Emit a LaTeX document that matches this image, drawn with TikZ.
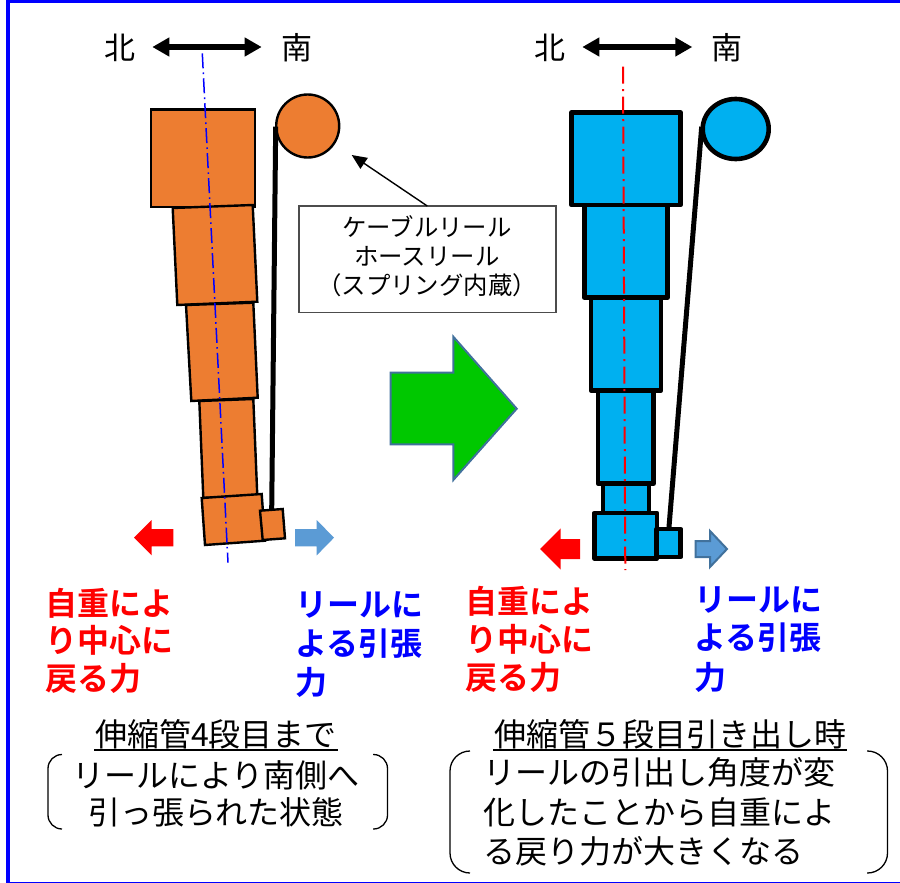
\documentclass[tikz,border=0pt]{standalone}
\usepackage{fontspec}
\setmainfont{Noto Sans CJK JP}
\newfontfamily\cjkb{Noto Sans CJK JP Bold}
\usetikzlibrary{arrows.meta,shapes.geometric}
\definecolor{ora}{HTML}{ED7D31}
\definecolor{sky}{HTML}{00B0F0}
\definecolor{steel}{HTML}{5B9BD5}
\definecolor{steeld}{HTML}{41719C}
\definecolor{grn}{HTML}{00C800}
\tikzset{
 opart/.style={draw=black,fill=ora,line width=2.4pt,line join=miter},
 bpart/.style={draw=black,fill=sky,line width=4.6pt,line join=round},
 cable/.style={draw=black,line width=5pt},
 nsarrow/.style={draw=black,line width=5.5pt,{Triangle[length=17pt,width=18pt]}-{Triangle[length=17pt,width=18pt]}},
 dir/.style={inner sep=0pt,font=\fontsize{31}{31}\selectfont},
 boldred/.style={inner sep=0pt,anchor=west,text=red,font=\cjkb\fontsize{32}{32}\selectfont},
 boldblue/.style={inner sep=0pt,anchor=west,text=blue,font=\cjkb\fontsize{32}{32}\selectfont},
 bodytxt/.style={inner sep=0pt,font=\fontsize{32}{32}\selectfont},
 boxtxt/.style={inner sep=0pt,font=\fontsize{24.4}{24.4}\selectfont},
 brk/.style={draw=black,line width=1.3pt},
}
\begin{document}
\begin{tikzpicture}[x=1pt,y=-1pt]
\useasboundingbox (0,0) rectangle (900,883);
\fill[white] (0,0) rectangle (900,883);
\fill[blue] (6,0) rectangle (900,3);
\fill[blue] (6,0) rectangle (10,883);
\fill[blue] (6,881.7) rectangle (900,883);
% left assembly
\coordinate (lat) at (202.3,53.3);
\coordinate (lab) at (228,562.7);
\draw[opart] (150.8,109.5) rectangle (255.2,206.7);
\draw[opart] (172.7,208) -- (252.7,205) -- (257.3,301.7) -- (177.3,305) -- cycle;
\draw[opart] (186,305) -- (253.3,302.7) -- (257.7,397.7) -- (191.3,401) -- cycle;
\draw[opart] (199.3,401) -- (253.3,399) -- (257.3,496) -- (203.3,498) -- cycle;
\draw[opart] (201.7,498) -- (261.7,494) -- (265,540.7) -- (205,545) -- cycle;
\draw[blue,line width=1.5pt,dash pattern=on 15pt off 4.2pt on 1.6pt off 4.2pt] (lat) -- (lab);
\node[circle,draw=black,fill=ora,line width=2.4pt,minimum size=63pt,inner sep=0pt] (lreel) at (307.7,126) {};
\coordinate (lct) at (275.7,126.7);
\coordinate (lcb) at (271.7,510);
\draw[cable] (lct) -- (lcb);
\draw[opart] (260,510.7) -- (282.7,509) -- (285,538.3) -- (262.7,540) -- cycle;
% right assembly
\draw[bpart] (571.6,112.4) rectangle (680.4,205);
\draw[bpart] (584.3,205) rectangle (667.7,297.6);
\draw[bpart] (591,297.6) rectangle (661,390.4);
\draw[bpart] (598,390.4) rectangle (653.7,483.6);
\draw[bpart] (603,483.6) rectangle (649,513);
\draw[bpart] (594.3,513) rectangle (657,558.4);
\coordinate (rat) at (623,66.7);
\coordinate (rab) at (625.3,570);
\draw[red,line width=2pt,dash pattern=on 17pt off 5.5pt on 2pt off 5.5pt] (rat) -- (rab);
\coordinate (rct) at (701.7,126.7);
\coordinate (rcb) at (669,527);
\draw[cable] (rct) -- (rcb);
\node[ellipse,draw=black,fill=sky,line width=4.6pt,minimum width=66pt,minimum height=60pt,inner sep=0pt] (rreel) at (735.7,129) {};
\draw[bpart] (656.6,529) rectangle (680.7,557);
% direction markers
\node[dir] (n1) at (119.5,48) {北};
\node[dir] (s1) at (297,48) {南};
\node[dir] (n2) at (549.5,48) {北};
\node[dir] (s2) at (727,48) {南};
\coordinate (a1l) at (152.3,47); \coordinate (a1r) at (261.7,47);
\coordinate (a2l) at (582.3,47); \coordinate (a2r) at (692.3,47);
\draw[nsarrow] (a1l) -- (a1r);
\draw[nsarrow] (a2l) -- (a2r);
% force arrows
\fill[red] (134,537.7) -- (151.7,520) -- (151.7,529) -- (173.3,529) -- (173.3,546.4) -- (151.7,546.4) -- (151.7,555.4) -- cycle;
\fill[steel] (334,537.7) -- (316.7,520) -- (316.7,529) -- (295,529) -- (295,546.4) -- (316.7,546.4) -- (316.7,555.4) -- cycle;
\fill[red] (540,549) -- (560.7,528.3) -- (560.7,539) -- (580,539) -- (580,559) -- (560.7,559) -- (560.7,569.7) -- cycle;
\draw[steeld,fill=steel,line width=2pt] (727,549) -- (710,531) -- (710,541) -- (695.5,541) -- (695.5,557) -- (710,557) -- (710,567) -- cycle;
% big arrow
\draw[steeld,fill=grn,line width=2pt] (390.7,372.7) -- (453.3,372.7) -- (453.3,336.7) -- (516.7,408.7) -- (453.3,480) -- (453.3,444.3) -- (390.7,444.3) -- cycle;
% callout
\node[draw=black!70,line width=1.4pt,minimum width=257pt,minimum height=106.3pt,inner sep=0pt,fill=white] (cbox) at (427.3,259.2) {};
\node[boxtxt] (c1) at (427,227) {ケーブルリール};
\node[boxtxt] (c2) at (427,256.7) {ホースリール};
\node[boxtxt] (c3) at (427,285.7) {（スプリング内蔵）};
\coordinate (cpt) at (351.7,155);
\coordinate (cst) at (427.3,206);
\draw[black,line width=1.4pt,-{Triangle[length=15pt,width=13pt]}] (cst) -- (cpt);
% bold labels
\node[boldred] (lr1) at (45,603) {自重によ};
\node[boldred] (lr2) at (45,640) {り中心に};
\node[boldred] (lr3) at (45,678) {戻る力};
\node[boldblue] (lb1) at (295,605) {リールに};
\node[boldblue] (lb2) at (295,644) {よる引張};
\node[boldblue] (lb3) at (295,682) {力};
\node[boldred] (rr1) at (465,601) {自重によ};
\node[boldred] (rr2) at (465,639) {り中心に};
\node[boldred] (rr3) at (465,677) {戻る力};
\node[boldblue] (rb1) at (694,600) {リールに};
\node[boldblue] (rb2) at (694,638) {よる引張};
\node[boldblue] (rb3) at (694,677) {力};
% headers
\node[bodytxt] (h1) at (216,734) {伸縮管4段目まで};
\coordinate (h1a) at (94,750); \coordinate (h1b) at (337.7,750);
\draw[black,line width=1.5pt] (h1a) -- (h1b);
\node[bodytxt] (h2) at (670,734) {伸縮管５段目引き出し時};
\coordinate (h2a) at (493,750); \coordinate (h2b) at (846.7,750);
\draw[black,line width=1.5pt] (h2a) -- (h2b);
\node[bodytxt] (t1) at (216,775) {リールにより南側へ};
\node[bodytxt] (t2) at (216,812) {引っ張られた状態};
\node[bodytxt,anchor=west] (t3) at (483,772) {リールの引出し角度が変};
\node[bodytxt,anchor=west] (t4) at (483,812) {化したことから自重によ};
\node[bodytxt,anchor=west] (t5) at (483,851) {る戻り力が大きくなる};
% brackets
\draw[brk,rounded corners=14pt] (62,754.5) -- (48,754.5) -- (48,829) -- (62,829);
\draw[brk,rounded corners=14pt] (373,754.5) -- (387.5,754.5) -- (387.5,829) -- (373,829);
\draw[brk,rounded corners=20pt] (470,751) -- (450,751) -- (450,873) -- (470,873);
\draw[brk,rounded corners=20pt] (867,751) -- (887.5,751) -- (887.5,873) -- (867,873);
\end{tikzpicture}
\end{document}
